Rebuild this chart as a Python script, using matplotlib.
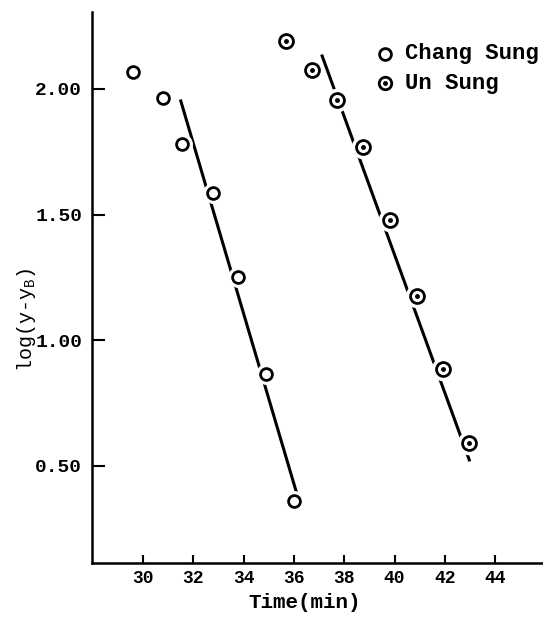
import numpy as np
import matplotlib.pyplot as plt

# values
chang_t = [29.6, 30.8, 31.55, 32.78, 33.78, 34.89, 36.0]
chang_y = [2.066, 1.964, 1.78, 1.586, 1.252, 0.866, 0.36]
chang_fit_t = [31.5, 36.13]
chang_fit_y = [1.952, 0.384]

un_t = [35.69, 36.72, 37.72, 38.75, 39.82, 40.9, 41.93, 42.97]
un_y = [2.19, 2.074, 1.956, 1.768, 1.479, 1.176, 0.886, 0.591]
un_fit_t = [37.12, 42.97]
un_fit_y = [2.131, 0.524]

xticks = [30, 32, 34, 36, 38, 40, 42, 44]
yticks = [0.50, 1.00, 1.50, 2.00]

font = 'Liberation Mono'

fig = plt.figure(figsize=(5.43, 6.17), dpi=100)
ax = fig.add_axes([92 / 543, 54 / 617, 451 / 543, 551 / 617])

for t, y in [(chang_fit_t, chang_fit_y), (un_fit_t, un_fit_y)]:
    ax.plot(t, y, color='black', linewidth=2.2, zorder=1)

# white halo so the fitted lines break round each point
ax.plot(chang_t, chang_y, 'o', color='white', markersize=14, zorder=2)
ax.plot(un_t, un_y, 'o', color='white', markersize=16, zorder=2)

ax.plot(chang_t, chang_y, 'o', markerfacecolor='white', markeredgecolor='black',
        markersize=8.5, markeredgewidth=2, zorder=3)
ax.plot(un_t, un_y, 'o', markerfacecolor='white', markeredgecolor='black',
        markersize=10, markeredgewidth=2, zorder=3)
ax.plot(un_t, un_y, 'o', color='black', markersize=2.5, zorder=4)

ax.set_xlim(27.97, 45.9)
ax.set_ylim(0.114, 2.306)
ax.set_xticks(xticks)
ax.set_yticks(yticks)
ax.set_xticklabels([str(v) for v in xticks], family=font, fontsize=13, fontweight='bold')
ax.set_yticklabels(['%.2f' % v for v in yticks], family=font, fontsize=14, fontweight='bold')
ax.tick_params(axis='x', direction='in', length=6, width=1.5, pad=5)
ax.tick_params(axis='y', direction='in', length=9, width=1.5, pad=7)

for side in ['top', 'right']:
    ax.spines[side].set_visible(False)
for side in ['left', 'bottom']:
    ax.spines[side].set_linewidth(1.8)

fig.text(305 / 543, 1 - 603 / 617, 'Time(min)', family=font, fontsize=15, fontweight='bold',
         ha='center', va='center')
fig.text(26 / 543, 1 - 320 / 617, 'log(y-y$_\\mathregular{B}$)', family=font, fontsize=14.5,
         rotation=90, ha='center', va='center')

# legend drawn by hand, as in the scan
lx, tx = 385, 405
for row, (label, dot) in enumerate([('Chang Sung', False), ('Un Sung', True)]):
    py = 1 - (54 + 29 * row) / 617
    fig.lines.append(plt.Line2D([lx / 543], [py], marker='o', markersize=8.5 if not dot else 9,
                                markerfacecolor='white', markeredgecolor='black',
                                markeredgewidth=2, transform=fig.transFigure))
    if dot:
        fig.lines.append(plt.Line2D([lx / 543], [py], marker='o', markersize=2.5, color='black',
                                    transform=fig.transFigure))
    fig.text(tx / 543, py, label, family=font, fontsize=16, fontweight='bold', va='center')

fig.savefig('out.png', dpi=100)
